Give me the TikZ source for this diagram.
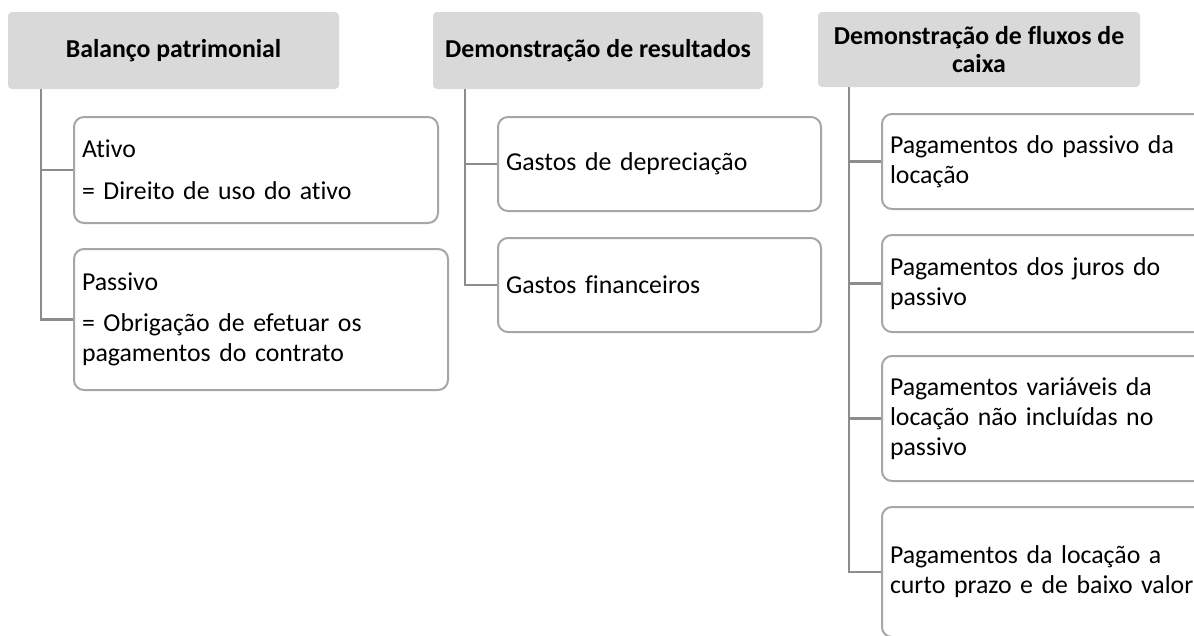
\documentclass[tikz,border=0pt]{standalone}
\usepackage{fontspec}
\setmainfont{Carlito}[Ligatures=NoCommon]
\definecolor{headGray}{HTML}{D9D9D9}
\definecolor{boxGray}{HTML}{A6A6A6}
\definecolor{lineGray}{HTML}{8C8C8C}

\begin{document}
\begin{tikzpicture}
[x=1pt,y=-1pt,
  headDecorate/.style={shape=rectangle,fill=headGray,rounded corners=4pt,font=\bfseries,align=center,inner sep=0pt},%
  boxDecorate/.style={shape=rectangle,draw=boxGray,line width=2pt,rounded corners=10pt,fill=white,align=left,anchor=west,inner xsep=8pt,inner ysep=0pt},%
  lineDecorate/.style={-,draw=lineGray,line width=2.5pt}]
\fontsize{25.8}{30}\selectfont
\useasboundingbox (0,0) rectangle (1194,635);
\clip (0,0) rectangle (1194,635);
%% headers
\foreach \nodename/\x/\y/\w/\h/\txt in {
  bp/173.5/50.5/331/77/{Balanço patrimonial},
  dr/598/50.5/330/77/{Demonstração de resultados},
  dfc/979/49.5/322/75/{Demonstração de fluxos de\\[-2pt]caixa}}
{
  \node (\nodename) at (\x,\y) [headDecorate,minimum width=\w pt,minimum height=\h pt] {\txt};
}
%% boxes
\foreach \nodename/\x/\y/\tw/\h/\txt in {
  ativo/73/170/348/106/{Ativo\\[12pt]= Direito de uso do ativo},
  passivo/73/319.5/358/141/{Passivo\\[11pt]= Obrigação de efetuar os\\pagamentos do contrato},
  deprec/497/164/307/94/{Gastos de depreciação},
  financ/497/285/307/94/{Gastos financeiros},
  pagPass/881/161.5/314/95/{Pagamentos do passivo da\\locação},
  pagJuros/881/283.5/314/97/{Pagamentos dos juros do\\passivo},
  pagVar/881/418.5/314/125/{Pagamentos variáveis da\\locação não incluídas no\\passivo},
  pagCurto/881/572/314/130/{Pagamentos da locação a\\curto prazo e de baixo valor}}
{
  \node (\nodename) at (\x,\y) [boxDecorate,text width=\tw pt,minimum height=\h pt] {\txt};
}
%% connectors
\foreach \headname/\shift/\childname in {
  bp/33/ativo, bp/33/passivo, dr/32/deprec, dr/32/financ,
  dfc/31/pagPass, dfc/31/pagJuros, dfc/31/pagVar, dfc/31/pagCurto}
{
  \draw[lineDecorate] ([xshift=\shift pt]\headname.south west) |- (\childname.west);
}
\end{tikzpicture}
\end{document}
